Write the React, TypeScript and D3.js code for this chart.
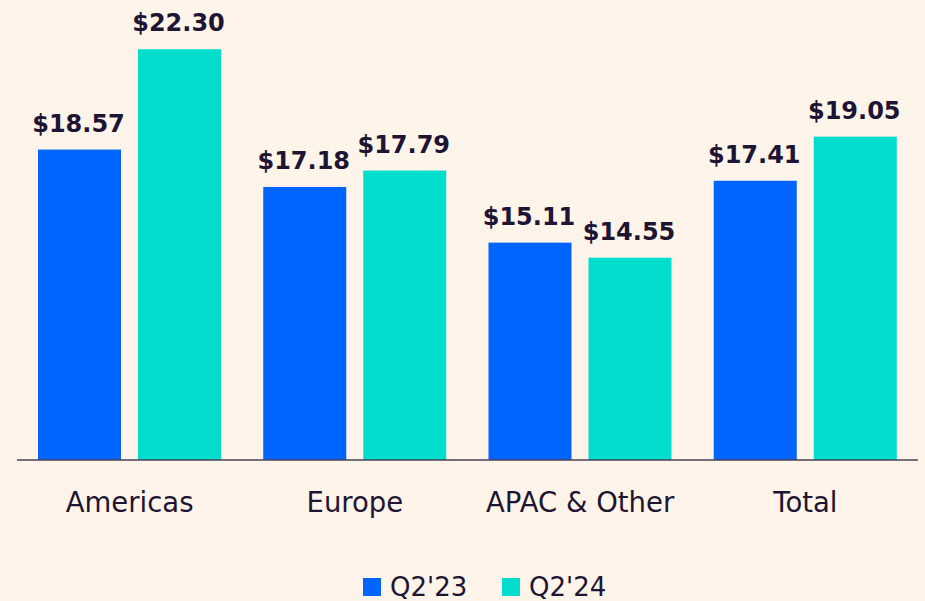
import React from "react";
import * as d3 from "d3";

const categories = ["Americas", "Europe", "APAC & Other", "Total"];
const seriesNames = ["Q2'23", "Q2'24"];
const q223 = [18.57, 17.18, 15.11, 17.41];
const q224 = [22.3, 17.79, 14.55, 19.05];
const colors = ["#0064FF", "#00DDCC"];

const W = 925;
const H = 601;
const BG = "#FFF4EA";
const TEXT = "#1E1433";
const FONT = "'DejaVu Sans', sans-serif";

export default function App() {
  const x0 = d3.scaleBand<string>().domain(categories).range([17, 918]).paddingInner(0).paddingOuter(0);
  const x1 = d3.scaleBand<string>().domain(seriesNames).range([21, 204]).paddingInner(0.17);
  const y = d3.scaleLinear().domain([7.03, 22.3]).range([460, 49.2]);
  const series = [q223, q224];

  return (
    <svg width={W} height={H} style={{ position: "absolute", left: 0, top: 0, background: BG }}>
      <rect x={0} y={0} width={W} height={H} fill={BG} />
      {categories.map((c, i) => (
        <g key={c} transform={`translate(${x0(c)},0)`}>
          {seriesNames.map((s, j) => {
            const v = series[j][i];
            const bx = x1(s)!;
            const bw = x1.bandwidth();
            return (
              <g key={s}>
                <rect x={bx} y={y(v)} width={bw} height={y.range()[0] - y(v)} fill={colors[j]} />
                <text
                  x={bx + bw / 2 - 1}
                  y={y(v) - 18}
                  textAnchor="middle"
                  fontFamily={FONT}
                  fontWeight="bold"
                  fontSize={24}
                  fill={TEXT}
                >
                  {"$" + v.toFixed(2)}
                </text>
              </g>
            );
          })}
          <text
            x={x0.bandwidth() / 2}
            y={512}
            textAnchor="middle"
            fontFamily={FONT}
            fontSize={27.5}
            fill={TEXT}
          >
            {c}
          </text>
        </g>
      ))}
      <line x1={17} x2={918} y1={460} y2={460} stroke="#4A4257" strokeWidth={1.5} />
      {seriesNames.map((s, j) => {
        const lx = [363, 502][j];
        return (
          <g key={s}>
            <rect x={lx} y={578} width={18} height={18} fill={colors[j]} />
            <text x={lx + 27} y={596} fontFamily={FONT} fontSize={26} fill={TEXT}>
              {s}
            </text>
          </g>
        );
      })}
    </svg>
  );
}
